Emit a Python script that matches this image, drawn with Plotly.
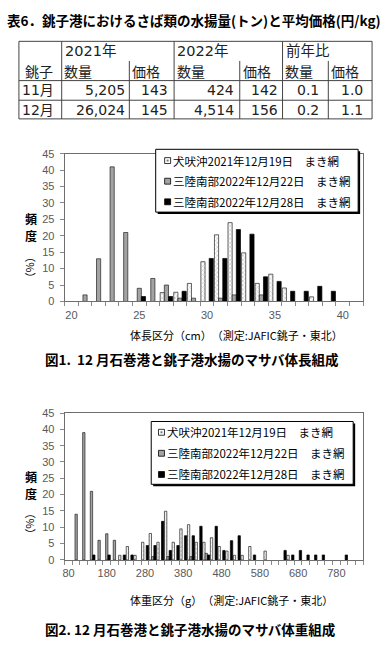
import plotly.graph_objects as go

W, H = 387, 650

# ---------------- table data ----------------
table_title = "表6．銚子港におけるさば類の水揚量(トン)と平均価格(円/kg)"
port_name = "銚子"
year_headers = ["2021年", "2022年", "前年比"]
sub_headers = ["数量", "価格"]
months = ["11月", "12月"]
qty_2021 = [5205, 26024]
price_2021 = [143, 145]
qty_2022 = [424, 4514]
price_2022 = [142, 156]
ratio_qty = [0.1, 0.2]
ratio_price = [1.0, 1.1]

# ---------------- series names ----------------
series_names = ["犬吠沖2021年12月19日　まき網",
                "三陸南部2022年12月22日　まき網",
                "三陸南部2022年12月28日　まき網"]

# ---------------- figure 1: body length (cm) ----------------
length_bins = list(range(20, 42))
len_inubo_1219 = [0, 0, 0, 0, 0, 0, 0, 2.7, 2.8, 5.5, 12.1, 20.3, 24.0, 14.8, 5.5, 8.3, 4.1, 0, 1.4, 0, 0, 0]
len_sanriku_1222 = [0, 2, 13, 41, 21, 4, 7, 5, 1, 1, 0, 1, 2, 0, 2, 0, 0, 0, 0, 0, 0, 0]
len_sanriku_1228 = [0, 0, 0, 0, 0, 1.5, 0, 1.5, 3.1, 0, 13.1, 13.1, 21.9, 20.5, 7.5, 6.1, 3.1, 3.1, 4.6, 3.1, 0, 0]
length_ticks = [20, 25, 30, 35, 40]
fig1_xtitle = "体長区分（cm）　（測定:JAFIC銚子・東北）"
fig1_caption = "図1.  12 月石巻港と銚子港水揚のマサバ体長組成"

# ---------------- figure 2: body weight (g) ----------------
weight_bins = list(range(80, 841, 20))
wt_inubo_1219 = [0, 0, 0, 0, 0, 0, 0, 1.4, 4.1, 1.4, 5.4, 8.1, 5.4, 14.9, 5.4, 9.5, 10.8, 5.4, 5.4, 6.8,
                 4.1, 2.7, 1.4, 1.4, 4.1, 0, 2.7, 0, 0, 1.4, 0, 0, 0, 0, 0, 0, 0, 0, 0]
wt_sanriku_1222 = [0, 14, 39, 21, 6, 8, 6, 0, 0, 0, 0, 1, 0, 1, 0, 0, 1, 0, 2, 0,
                   0, 0, 0, 0, 0, 0, 0, 0, 0, 0, 0, 0, 0, 0, 0, 0, 0, 0, 0]
wt_sanriku_1228 = [0, 0, 0, 1.5, 0, 1.5, 0, 1.5, 1.5, 0, 4.4, 4.4, 11.8, 2.9, 4.4, 7.4, 7.4, 10.3, 1.5, 10.3,
                   2.9, 5.9, 7.4, 0, 1.5, 0, 0, 0, 2.9, 1.5, 2.9, 1.5, 1.5, 1.5, 0, 0, 1.5, 0, 0]
weight_ticks = list(range(80, 781, 100))
fig2_xtitle = "体重区分（g）　（測定:JAFIC銚子・東北）"
fig2_caption = "図2. 12 月石巻港と銚子港水揚のマサバ体重組成"

y_title_chars = ["頻", "度"]
y_unit = "（%）"

# ---------------- styling ----------------
JP = "Noto Sans CJK JP"
NUM = "DejaVu Sans, Noto Sans CJK JP"
AX = "Liberation Sans, Arial, Noto Sans CJK JP"
GRAY = "#a3a3a3"
styles = [
    dict(color="white", line=dict(color="#222", width=0.7),
         pattern=dict(shape="x", fgcolor="#8a8a8a", bgcolor="white", size=3, solidity=0.35)),
    dict(color=GRAY, line=dict(color="#222", width=0.7)),
    dict(color="black", line=dict(color="black", width=0.7)),
]


def nz(vals):
    return [v if v else None for v in vals]


def X(px):
    return px / W


def Y(py):
    return 1 - py / H


fig = go.Figure()

for vals, name, st in zip([len_inubo_1219, len_sanriku_1222, len_sanriku_1228], series_names, styles):
    fig.add_trace(go.Bar(x=length_bins, y=nz(vals), name=name, marker=st, xaxis="x", yaxis="y"))
for vals, name, st in zip([wt_inubo_1219, wt_sanriku_1222, wt_sanriku_1228], series_names, styles):
    fig.add_trace(go.Bar(x=weight_bins, y=nz(vals), name=name, marker=st, xaxis="x2", yaxis="y2"))

axis_common = dict(showline=True, linecolor="#6e6e6e", linewidth=1, mirror=True,
                   showgrid=False, zeroline=False, fixedrange=True,
                   tickfont=dict(family=AX, size=11, color="#595959"))

fig.update_layout(
    width=W, height=H, autosize=False,
    margin=dict(l=0, r=0, t=0, b=0),
    paper_bgcolor="white", plot_bgcolor="white",
    showlegend=False, barmode="group", bargap=0.08, bargroupgap=0,
    xaxis=dict(domain=[X(63), X(363)], range=[19.5, 41.5], anchor="y",
               tickvals=length_ticks, ticks="", ticklabelstandoff=3,
               minor=dict(ticks="outside", tick0=19.5, dtick=1, ticklen=4, tickcolor="#8a8a8a"),
               **axis_common),
    yaxis=dict(domain=[Y(301), Y(150.5)], range=[0, 45], dtick=5, anchor="x",
               ticks="outside", ticklen=4, tickcolor="#8a8a8a", ticklabelstandoff=3,
               **axis_common),
    xaxis2=dict(domain=[X(63), X(363)], range=[70, 850], anchor="y2",
                tickvals=weight_ticks, ticks="", ticklabelstandoff=3,
                minor=dict(ticks="outside", tick0=70, dtick=20, ticklen=4, tickcolor="#8a8a8a"),
                **axis_common),
    yaxis2=dict(domain=[Y(564.3), Y(414.7)], range=[0, 45], dtick=5, anchor="x2",
                ticks="outside", ticklen=4, tickcolor="#8a8a8a", ticklabelstandoff=3,
                **axis_common),
)


def ann(text, x, y, size, xanchor="left", yanchor="middle", color="black", family=JP, angle=0):
    fig.add_annotation(text=text, x=X(x), y=Y(y), xref="paper", yref="paper", showarrow=False,
                       xanchor=xanchor, yanchor=yanchor, borderpad=0, textangle=angle,
                       font=dict(size=size, color=color, family=family))


def rect(x0, y0, x1, y1, fill, line="black", lw=1):
    fig.add_shape(type="rect", xref="paper", yref="paper", x0=X(x0), x1=X(x1), y0=Y(y0), y1=Y(y1),
                  fillcolor=fill, line=dict(color=line, width=lw), layer="above")


def hline(x0, x1, y, color="#444", lw=1):
    fig.add_shape(type="line", xref="paper", yref="paper", x0=X(x0), x1=X(x1), y0=Y(y), y1=Y(y),
                  line=dict(color=color, width=lw), layer="above")


def vline(x, y0, y1, color="#444", lw=1):
    fig.add_shape(type="line", xref="paper", yref="paper", x0=X(x), x1=X(x), y0=Y(y0), y1=Y(y1),
                  line=dict(color=color, width=lw), layer="above")


# ---------------- title & table ----------------
ann("<b>" + table_title + "</b>", 193, 14, 13.5, xanchor="center")

cols = [17, 60, 128, 173, 239, 282, 328, 372]
rows = [36, 56, 76, 96, 115]
TC = "#222"
rect(cols[0], rows[0], cols[-1], rows[-1], "rgba(0,0,0,0)", line="#444", lw=1)
for r in rows[2:4]:
    hline(cols[0], cols[-1], r)
for c in (cols[1], cols[3], cols[5]):
    vline(c, rows[0], rows[-1])
for c in (cols[2], cols[4], cols[6]):
    vline(c, rows[1], rows[-1])

for i, yh in enumerate(year_headers):
    ann(yh, cols[1 + 2 * i] + 2, 46, 14.5, color=TC, family=NUM)
ann(port_name, 22, 66, 14, color=TC)
for i in range(3):
    ann(sub_headers[0], cols[1 + 2 * i] + 1.5, 66, 14, color=TC)
    ann(sub_headers[1], cols[2 + 2 * i] + 2, 66, 14, color=TC)

row_y = [86, 105.5]
for j, m in enumerate(months):
    yy = row_y[j]
    ann(m, 19, yy, 14, color=TC, family=NUM)
    ann(f"{qty_2021[j]:,}", 125, yy, 14, xanchor="right", color=TC, family=NUM)
    ann(f"{price_2021[j]}", 168, yy, 14, xanchor="right", color=TC, family=NUM)
    ann(f"{qty_2022[j]:,}", 234, yy, 14, xanchor="right", color=TC, family=NUM)
    ann(f"{price_2022[j]}", 278, yy, 14, xanchor="right", color=TC, family=NUM)
    ann(f"{ratio_qty[j]:.1f}", 320, yy, 14, xanchor="right", color=TC, family=NUM)
    ann(f"{ratio_price[j]:.1f}", 364, yy, 14, xanchor="right", color=TC, family=NUM)


# ---------------- legends ----------------
def legend(box, sym_x, text_x, rows_y, shadow):
    x0, y0, x1, y1 = box
    if shadow:
        rect(x0 + 2, y0 + 2, x1 + 2, y1 + 2, "black", line="black", lw=0)
    rect(x0, y0, x1, y1, "white", line="black", lw=1)
    for k, (yy, name) in enumerate(zip(rows_y, series_names)):
        s = 6
        if k == 0:
            rect(sym_x, yy - s / 2, sym_x + s, yy + s / 2, "white", line="black", lw=0.8)
            rect(sym_x + 2, yy - 1, sym_x + 4, yy + 1, "#777", line="#777", lw=0)
        elif k == 1:
            rect(sym_x, yy - s / 2, sym_x + s, yy + s / 2, GRAY, line="black", lw=0.8)
        else:
            rect(sym_x, yy - s / 2, sym_x + s, yy + s / 2, "black", line="black", lw=0.8)
        ann(name, text_x, yy, 11.5)


legend((154.5, 146, 358, 210), 163.5, 171, [157.5, 178.5, 199.5], True)
legend((150, 423.3, 353, 487.3), 157.3, 164.5, [434.3, 455.7, 477.3], True)

# ---------------- axis titles & captions ----------------
for yy0, yu in ((216.5, 266), (479, 527)):
    ann("<b>" + y_title_chars[0] + "</b>", 29, yy0, 12, xanchor="center")
    ann("<b>" + y_title_chars[1] + "</b>", 29, yy0 + 17.5, 12, xanchor="center")
    ann(y_unit, 29, yu, 11, xanchor="center", angle=90)

ann(fig1_xtitle, 128, 335, 11)
ann(fig2_xtitle, 128, 605, 11)
ann("<b>" + fig1_caption + "</b>", 42, 360, 13.5)
ann("<b>" + fig2_caption + "</b>", 42, 635, 13.5)

fig.write_html("out.html")
